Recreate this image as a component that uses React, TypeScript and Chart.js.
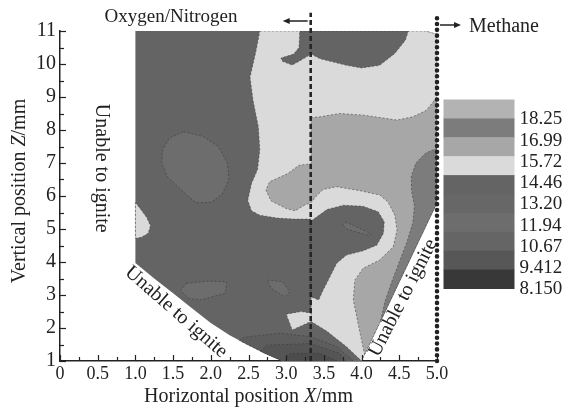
import React, { useEffect, useRef } from "react";
import { Chart, registerables } from "chart.js";

Chart.register(...registerables);

type Pt = [number, number];

// ---------- axes ----------
const X_TICK_VALUES = [0, 0.5, 1, 1.5, 2, 2.5, 3, 3.5, 4, 4.5, 5];
const X_TICK_LABELS = ["0", "0.5", "1.0", "1.5", "2.0", "2.5", "3.0", "3.5", "4.0", "4.5", "5.0"];
const Z_TICK_VALUES = [1, 2, 3, 4, 5, 6, 7, 8, 9, 10, 11];
const Z_TICK_LABELS = ["1", "2", "3", "4", "5", "6", "7", "8", "9", "10", "11"];

// ---------- colour bar ----------
const LEVEL_LABELS = ["18.25", "16.99", "15.72", "14.46", "13.20", "11.94", "10.67", "9.412", "8.150"];
const LEVEL_COLORS = ["#b3b3b3", "#7c7c7c", "#a7a7a7", "#dadada", "#646464", "#676767", "#6d6d6d", "#656565", "#575757", "#383838"];

// ---------- boundaries (X mm) ----------
const DIVIDER_X = 3.325; // oxygen / nitrogen side
const FUEL_X = 5.0; // methane side

// ---------- contour regions, vertices in (X mm, Z mm) ----------
const domainOutline: Pt[] = [
  [1.0, 11], [4.85, 11], [5.0, 10.9], [5.0, 5.8], [4.0, 1.0], [2.95, 1.0], [2.85, 1.1], [2.7, 1.25],
  [2.5, 1.48], [2.25, 1.78], [2.0, 2.15], [1.75, 2.6], [1.5, 3.05], [1.25, 3.5], [1.0, 3.97],
];
const lightRegion: Pt[] = [
  [2.65, 11], [4.85, 11], [5.0, 10.9], [5.0, 5.8], [4.0, 1.0], [3.8, 1.43], [3.54, 1.9], [3.33, 2.2],
  [3.33, 5.3], [3.1, 5.3], [2.88, 5.33], [2.65, 5.42], [2.54, 5.55], [2.49, 5.87], [2.54, 6.38],
  [2.62, 6.8], [2.65, 7.4], [2.63, 8.1], [2.56, 8.9], [2.52, 9.6], [2.6, 10.4],
];
const midRegion: Pt[] = [
  [3.33, 8.38], [3.45, 8.4], [3.71, 8.5], [4.03, 8.45], [4.47, 8.3], [4.68, 8.4], [4.86, 8.6], [5.0, 9.0],
  [5.0, 5.8], [4.04, 1.2], [3.98, 1.84], [3.89, 2.85], [3.91, 3.45], [4.02, 3.81], [4.24, 4.06],
  [4.42, 4.46], [4.47, 4.97], [4.44, 5.42], [4.35, 5.82], [4.24, 6.03], [3.98, 6.16], [3.67, 6.28],
  [3.49, 6.2], [3.4, 6.0], [3.33, 5.8], [3.24, 5.72], [3.12, 5.55], [3.0, 5.62], [2.8, 5.85],
  [2.73, 6.18], [2.78, 6.43], [3.02, 6.68], [3.17, 6.93], [3.33, 6.98],
];
const edgeRegion: Pt[] = [
  [5.0, 7.45], [4.85, 7.3], [4.72, 7.0], [4.66, 6.6], [4.66, 6.2], [4.7, 5.7], [4.68, 5.2], [4.6, 4.6],
  [4.5, 4.0], [4.4, 3.4], [4.31, 2.8], [4.25, 2.2], [5.0, 5.8],
];
const topDarkRegion: Pt[] = [
  [3.18, 11], [4.62, 11], [4.58, 10.72], [4.44, 10.32], [4.24, 9.96], [4.0, 9.88], [3.8, 9.96],
  [3.45, 10.16], [3.33, 10.3], [3.2, 10.12], [3.08, 9.97], [2.95, 10.08], [2.93, 10.18], [3.1, 10.3],
  [3.17, 10.5],
];
const coreDarkRegion: Pt[] = [
  [3.33, 5.24], [3.54, 5.59], [3.76, 5.72], [4.02, 5.69], [4.22, 5.52], [4.3, 5.22],
  [4.29, 4.87], [4.2, 4.51], [4.02, 4.34], [3.8, 4.21], [3.67, 3.96], [3.58, 3.55], [3.49, 3.15],
  [3.43, 2.85], [3.33, 2.95],
];
const coreSliver: Pt[] = [[3.74, 5.12], [3.8, 5.2], [4.12, 4.86], [4.1, 4.8], [3.8, 5.0]];
const leftLightBlob: Pt[] = [[1.0, 5.8], [1.07, 5.6], [1.15, 5.35], [1.2, 5.1], [1.17, 4.87], [1.08, 4.75], [1.0, 4.72]];
const upperBlob: Pt[] = [
  [1.64, 7.95], [1.9, 7.8], [2.1, 7.5], [2.22, 7.0], [2.24, 6.5], [2.15, 6.05], [2.0, 5.8], [1.8, 5.8],
  [1.6, 6.2], [1.42, 6.6], [1.35, 7.0], [1.36, 7.4], [1.45, 7.75],
];
const lowerBlobA: Pt[] = [[1.68, 3.35], [1.95, 3.42], [2.21, 3.4], [2.19, 3.05], [1.86, 2.85], [1.7, 2.9], [1.6, 3.15]];
const lowerBlobB: Pt[] = [[2.75, 3.45], [2.95, 3.4], [3.05, 3.1], [2.98, 2.95], [2.8, 3.2]];
const lightTriangle: Pt[] = [[3.0, 2.42], [3.2, 2.5], [3.33, 2.45], [3.33, 2.2], [3.08, 1.94]];
const bottomBand1: Pt[] = [
  [2.38, 1.62], [2.45, 1.72], [2.92, 1.84], [3.32, 1.74], [3.67, 1.43], [3.89, 1.0], [2.95, 1.0],
  [2.85, 1.1], [2.7, 1.25], [2.5, 1.48],
];
const bottomBand2: Pt[] = [[2.66, 1.3], [2.74, 1.48], [3.32, 1.53], [3.71, 1.23], [3.78, 1.0], [2.95, 1.0], [2.85, 1.1], [2.7, 1.25]];
const bottomBand3: Pt[] = [[2.98, 1.0], [3.05, 1.23], [3.45, 1.23], [3.67, 1.0]];

const REGIONS: { pts: Pt[]; color: string; edge: boolean }[] = [
  { pts: domainOutline, color: LEVEL_COLORS[4], edge: false },
  { pts: lightRegion, color: LEVEL_COLORS[3], edge: true },
  { pts: midRegion, color: LEVEL_COLORS[2], edge: true },
  { pts: edgeRegion, color: LEVEL_COLORS[1], edge: true },
  { pts: topDarkRegion, color: LEVEL_COLORS[4], edge: true },
  { pts: coreDarkRegion, color: LEVEL_COLORS[4], edge: true },
  { pts: coreSliver, color: LEVEL_COLORS[6], edge: true },
  { pts: leftLightBlob, color: LEVEL_COLORS[3], edge: true },
  { pts: upperBlob, color: LEVEL_COLORS[6], edge: true },
  { pts: lowerBlobA, color: LEVEL_COLORS[6], edge: true },
  { pts: lowerBlobB, color: LEVEL_COLORS[6], edge: true },
  { pts: lightTriangle, color: LEVEL_COLORS[3], edge: true },
  { pts: bottomBand1, color: "#5d5d5d", edge: true },
  { pts: bottomBand2, color: "#555555", edge: true },
  { pts: bottomBand3, color: "#4c4c4c", edge: true },
];

const SERIF = '"Liberation Serif", "Times New Roman", serif';
const font = (size: number, style = "") => `${style} ${size}px ${SERIF}`.trim();

function drawMixed(
  ctx: CanvasRenderingContext2D,
  parts: [string, boolean][],
  cx: number,
  cy: number,
  size: number,
  rot: number
) {
  ctx.save();
  ctx.translate(cx, cy);
  ctx.rotate(rot);
  let total = 0;
  const widths = parts.map(([t, it]) => {
    ctx.font = font(size, it ? "italic" : "");
    const w = ctx.measureText(t).width;
    total += w;
    return w;
  });
  let x = -total / 2;
  ctx.textBaseline = "middle";
  ctx.textAlign = "left";
  parts.forEach(([t, it], i) => {
    ctx.font = font(size, it ? "italic" : "");
    ctx.fillText(t, x, 0);
    x += widths[i];
  });
  ctx.restore();
}

const decorPlugin = {
  id: "decor",
  afterDraw(chart: any) {
    const { ctx, chartArea: a, scales } = chart;
    const xs = scales.x;
    const ys = scales.y;
    ctx.save();
    ctx.strokeStyle = "#222";
    ctx.fillStyle = "#222";
    ctx.lineWidth = 1.2;
    // inward ticks
    for (let v = 0; v <= 5.0001; v += 0.25) {
      const px = Math.round(xs.getPixelForValue(v)) + 0.5;
      const major = Math.abs(v * 2 - Math.round(v * 2)) < 1e-6;
      ctx.beginPath();
      ctx.moveTo(px, a.bottom);
      ctx.lineTo(px, a.bottom - (major ? 6 : 4));
      ctx.stroke();
    }
    for (let v = 1; v <= 11.0001; v += 0.5) {
      const py = Math.round(ys.getPixelForValue(v)) + 0.5;
      const major = Math.abs(v - Math.round(v)) < 1e-6;
      ctx.beginPath();
      ctx.moveTo(a.left, py);
      ctx.lineTo(a.left + (major ? 6 : 4), py);
      ctx.stroke();
    }

    // axis titles
    drawMixed(ctx, [["Horizontal position ", false], ["X", true], ["/mm", false]], (a.left + a.right) / 2, 397, 20, 0);
    drawMixed(ctx, [["Vertical position ", false], ["Z", true], ["/mm", false]], 20, 191, 20, -Math.PI / 2);

    // unable-to-ignite notes
    const note = (X: number, Z: number, deg: number) =>
      drawMixed(ctx, [["Unable to ignite", false]], xs.getPixelForValue(X), ys.getPixelForValue(Z), 20, (deg * Math.PI) / 180);
    note(0.55, 6.84, 90);
    note(1.54, 2.48, 41);
    note(4.55, 2.91, -63);

    // top labels and arrows
    ctx.font = font(19);
    ctx.textAlign = "center";
    ctx.textBaseline = "alphabetic";
    ctx.fillText("Oxygen/Nitrogen", 171, 22);
    const dx = xs.getPixelForValue(DIVIDER_X);
    const fx = xs.getPixelForValue(FUEL_X);
    ctx.lineWidth = 1.5;
    ctx.beginPath();
    ctx.moveTo(dx - 3, 21);
    ctx.lineTo(dx - 24, 21);
    ctx.stroke();
    ctx.beginPath();
    ctx.moveTo(dx - 28, 21);
    ctx.lineTo(dx - 21, 18);
    ctx.lineTo(dx - 21, 24);
    ctx.closePath();
    ctx.fill();
    ctx.beginPath();
    ctx.moveTo(fx + 3, 25);
    ctx.lineTo(fx + 20, 25);
    ctx.stroke();
    ctx.beginPath();
    ctx.moveTo(fx + 24, 25);
    ctx.lineTo(fx + 17, 22);
    ctx.lineTo(fx + 17, 28);
    ctx.closePath();
    ctx.fill();
    ctx.font = font(20);
    ctx.textAlign = "left";
    ctx.fillText("Methane", fx + 32, 32);

    // colour bar
    const barL = a.right + 6.5;
    const barW = 71;
    const barT = a.top + 68.5;
    const segH = 18.9;
    LEVEL_COLORS.forEach((c, i) => {
      ctx.fillStyle = c;
      ctx.fillRect(barL, barT + i * segH, barW, segH + 0.5);
    });
    ctx.fillStyle = "#222";
    ctx.font = font(19);
    ctx.textBaseline = "middle";
    ctx.textAlign = "left";
    const first = barT + segH;
    const last = barT + segH * LEVEL_COLORS.length;
    const step = (last - first) / (LEVEL_LABELS.length - 1);
    LEVEL_LABELS.forEach((t, i) => ctx.fillText(t, barL + barW + 5, first + i * step + 1));
    ctx.restore();
  },
};

export default function App() {
  const ref = useRef<HTMLCanvasElement | null>(null);
  useEffect(() => {
    if (!ref.current) return;
    const regionSets = REGIONS.map((r, i) => ({
      data: [...r.pts, r.pts[0]].map(([x, y]) => ({ x, y })),
      backgroundColor: r.color,
      borderColor: r.edge ? "rgba(55,55,55,0.55)" : "rgba(0,0,0,0)",
      borderWidth: r.edge ? 1 : 0,
      borderDash: [2, 2],
      fill: "shape",
      pointRadius: 0,
      tension: 0,
      order: 100 - i,
    }));
    const lineSets = [
      {
        data: [{ x: DIVIDER_X, y: 1 }, { x: DIVIDER_X, y: 11.55 }],
        borderColor: "#262626",
        borderWidth: 2.6,
        borderDash: [5, 3],
        fill: false,
        pointRadius: 0,
        clip: false,
        order: 1,
      },
      {
        data: [{ x: FUEL_X, y: 1 }, { x: FUEL_X, y: 11.48 }],
        borderColor: "#222",
        borderWidth: 4.6,
        borderDash: [0.01, 5.8],
        borderCapStyle: "round",
        fill: false,
        pointRadius: 0,
        clip: false,
        order: 0,
      },
    ];
    const chart = new Chart(ref.current, {
      type: "line",
      data: { datasets: [...regionSets, ...lineSets] as any },
      options: {
        animation: false,
        responsive: false,
        devicePixelRatio: 1,
        events: [],
        layout: { padding: { left: 0, right: 133, top: 31, bottom: 0 } },
        plugins: { legend: { display: false }, tooltip: { enabled: false } },
        scales: {
          x: {
            type: "linear",
            min: 0,
            max: 5,
            afterBuildTicks: (s: any) => {
              s.ticks = X_TICK_VALUES.map((v) => ({ value: v }));
            },
            afterFit: (s: any) => {
              s.height = 47;
            },
            ticks: {
              callback: (_v: any, i: number) => X_TICK_LABELS[i],
              font: { family: SERIF, size: 18 },
              color: "#222",
              padding: 2,
              maxRotation: 0,
              autoSkip: false,
            },
            grid: { display: false, drawTicks: false },
            border: { display: true, color: "#222", width: 1.5 },
          },
          y: {
            type: "linear",
            min: 1,
            max: 11,
            afterBuildTicks: (s: any) => {
              s.ticks = Z_TICK_VALUES.map((v) => ({ value: v }));
            },
            afterFit: (s: any) => {
              s.width = 60;
            },
            ticks: {
              callback: (_v: any, i: number) => Z_TICK_LABELS[i],
              font: { family: SERIF, size: 20 },
              color: "#222",
              padding: 4,
              autoSkip: false,
            },
            grid: { display: false, drawTicks: false },
            border: { display: true, color: "#222", width: 1.5 },
          },
        },
      } as any,
      plugins: [decorPlugin],
    });
    return () => chart.destroy();
  }, []);
  return (
    <div style={{ position: "absolute", left: 0, top: 0, width: 570, height: 408, background: "#fff" }}>
      <canvas ref={ref} width={570} height={408} style={{ display: "block" }} />
    </div>
  );
}
